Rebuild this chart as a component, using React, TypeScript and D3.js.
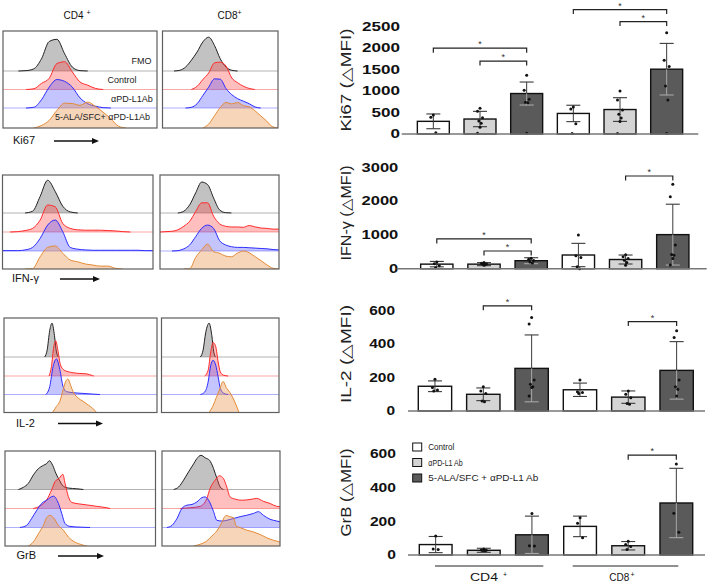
import React from "react";
import * as d3 from "d3";

const FONT = "'Liberation Sans', Arial, Helvetica, sans-serif";

// ---------------- Histogram data (count, % of 36px unit) ----------------
// Uniform bins: fluorescence 0,5,...,100 (Ki67 & IFN-γ)
const ki67_CD4_FMO = [0,0,0,1,6,34,82,88,48,11,1,0,0,0,0,0,0,0,0,0,0];
const ki67_CD4_Ctrl = [0,0,0,0,2,17,31,72,77,49,21,12,3,0,0,0,0,0,0,0,0];
const ki67_CD4_aPD = [0,0,0,0,2,23,58,79,74,58,28,12,5,1,0,0,0,0,0,0,0];
const ki67_CD4_Combo = [0,0,0,0,0,7,21,49,69,68,63,72,60,44,26,5,0,0,0,0,0];
const ki67_CD8_FMO = [0,0,0,2,11,30,53,81,94,71,34,11,2,0,0,0,0,0,0,0,0];
const ki67_CD8_Ctrl = [0,0,0,0,0,0,9,28,46,74,76,65,32,19,9,3,0,0,0,0,0];
const ki67_CD8_aPD = [0,0,0,0,0,2,12,35,58,81,80,54,37,26,19,12,3,0,0,0,0];
const ki67_CD8_Combo = [0,0,0,0,0,0,0,0,11,34,57,71,67,71,62,59,48,34,20,4,0];

const ifn_CD4_FMO = [0,0,0,0,5,46,91,60,19,3,0,0,0,0,0,0,0,0,0,0,0];
const ifn_CD4_Ctrl = [0,0,1,4,10,33,75,70,24,10,6,5,5,5,4,3,1,0,0,0,0];
const ifn_CD4_aPD = [1,1,1,3,10,35,72,86,54,10,5,3,2,2,2,2,2,2,2,1,1];
const ifn_CD4_Combo = [0,0,0,0,1,34,60,64,44,25,20,14,11,8,8,2,0,0,0,0,0];
const ifn_CD8_FMO = [0,0,0,0,5,23,56,86,79,42,9,1,0,0,0,0,0,0,0,0,0];
const ifn_CD8_Ctrl = [0,1,2,6,16,30,57,81,81,44,23,16,14,14,13,18,14,11,10,8,8];
const ifn_CD8_aPD = [0,0,0,1,6,17,40,63,72,63,29,17,12,10,10,9,8,7,6,4,3];
const ifn_CD8_Combo = [0,0,0,0,0,1,32,53,69,48,44,36,34,44,50,45,34,23,11,2,0];

// [fluorescence, count] pairs (IL-2 & GrB)
const il2_CD4_FMO: [number, number][] = [[26.6,0],[28.2,19],[29.9,74],[31.4,94],[32.8,65],[34.3,14],[35.6,0]];
const il2_CD4_Ctrl: [number, number][] = [[29.5,0],[31,26],[32.5,81],[33.8,98],[35.2,72],[36.9,31],[39.1,17],[41.9,12],[45.2,9],[49.6,7],[53.9,6],[57.9,1],[58.7,0]];
const il2_CD4_aPD: [number, number][] = [[27.3,0],[29.9,22],[32.1,78],[34.3,99],[36.5,69],[38.6,22],[40.8,8],[45.2,5],[51.7,3],[58.3,1],[62.7,0]];
const il2_CD4_Combo: [number, number][] = [[31.7,0],[34.3,17],[36.5,31],[38.6,63],[40.4,87],[41.9,93],[43.4,77],[45.6,54],[48.5,40],[51.7,31],[55,21],[57.9,12],[60.5,0]];
const il2_CD8_FMO: [number, number][] = [[33.1,0],[35.4,19],[37.7,69],[40.5,94],[42.8,60],[44.5,14],[45.9,0]];
const il2_CD8_Ctrl: [number, number][] = [[36.8,0],[39.7,16],[41.9,67],[43.9,93],[46.2,81],[48.2,39],[50.1,11],[53,2],[56.7,0]];
const il2_CD8_aPD: [number, number][] = [[33.1,0],[36.8,7],[39.7,35],[41.9,81],[43.9,95],[46.2,81],[48.2,49],[50.1,17],[53,3],[56.7,0]];
const il2_CD8_Combo: [number, number][] = [[40.5,0],[43.9,19],[46.7,42],[49.6,65],[52.4,86],[55.2,69],[58.1,56],[60.9,40],[63.2,23],[66,0]];

const grb_CD4_FMO: [number, number][] = [[8.9,0],[12.2,6],[15.5,17],[18.8,40],[22.2,58],[25.5,67],[27.7,72],[29.5,80],[31.7,67],[33.9,44],[36.1,26],[38.8,9],[42.1,4],[47.7,2],[52.1,0]];
const grb_CD4_Ctrl: [number, number][] = [[18.8,0],[23.3,7],[27.7,24],[31,52],[33.3,75],[36.1,84],[38.4,95],[39.9,70],[42.1,33],[44.3,17],[48.8,13],[54.3,10],[61,6],[67.6,2],[69.8,0]];
const grb_CD4_aPD: [number, number][] = [[10,0],[14.4,6],[17.7,25],[21.1,48],[24.4,67],[27.7,76],[32.2,87],[35.5,67],[37.7,39],[39.9,11],[43.2,3],[49.9,1],[56.5,0]];
const grb_CD4_Combo: [number, number][] = [[15.5,0],[18.8,11],[22.2,34],[25.5,57],[27.7,79],[29.9,85],[32.2,79],[35.5,57],[38.8,44],[42.1,25],[45.5,13],[49.9,5],[54.3,0]];
const grb_CD8_FMO: [number, number][] = [[9.9,0],[14.1,7],[18.3,26],[22.5,49],[26.2,68],[29.6,86],[33,95],[36.6,88],[40.3,81],[43.7,58],[46.5,31],[49.3,7],[52.1,0]];
const grb_CD8_Ctrl: [number, number][] = [[15.5,0],[23.9,2],[32.4,6],[38,28],[40.8,56],[45.1,79],[48.7,91],[52.1,83],[54.9,60],[57.7,32],[62,26],[67.6,23],[74.6,25],[80.3,28],[85.9,20],[91.5,14],[97.2,6],[100,5]];
const grb_CD8_aPD: [number, number][] = [[4.2,0],[8.5,6],[12.7,25],[16.9,53],[21.1,62],[25.4,64],[29.6,71],[33.8,83],[36.6,85],[40.3,71],[43.7,44],[46.5,20],[50.7,18],[54.9,20],[60.6,25],[66.2,30],[71.8,34],[77.5,39],[81.7,44],[85.9,34],[91.5,23],[97.2,18],[100,16]];
const grb_CD8_Combo: [number, number][] = [[26.8,0],[32.4,5],[38,14],[42.3,28],[46.5,42],[49.9,60],[52.7,79],[54.4,85],[57.7,81],[60.6,79],[62.8,56],[66.2,51],[71.8,44],[77.5,39],[83.1,32],[88.7,23],[94.4,16],[100,11]];

const histLaneNames = ["FMO", "Control", "αPD-L1Ab", "5-ALA/SFC+ αPD-L1Ab"];
const histMarkers = ["Ki67", "IFN-γ", "IL-2", "GrB"];

// ---------------- Bar chart data ----------------
const barCategories = [
  "CD4 Control", "CD4 αPD-L1 Ab", "CD4 5-ALA/SFC + αPD-L1 Ab",
  "CD8 Control", "CD8 αPD-L1 Ab", "CD8 5-ALA/SFC + αPD-L1 Ab",
];
const legendLabels = ["Control", "αPD-L1 Ab", "5-ALA/SFC + αPD-L1 Ab"];
const groupLabels = ["CD4", "CD8"];

const ki67Mean = [295, 349, 943, 479, 570, 1510];
const ki67SD = [172, 179, 268, 191, 276, 601];
const ki67Dots = [[440, 390, 30], [600, 530, 380, 300, 250, 160, 20], [1370, 1020, 810, 740, 730, 15], [630, 580, 240, 10], [1000, 790, 560, 460, 370, 290, 10], [2360, 1720, 1570, 1120, 790, 10]];
const ki67Sig = [[0, 2, 2000], [1, 2, 1700], [3, 5, 2900], [4, 5, 2620]];
const ki67Ticks = [0, 500, 1000, 1500, 2000, 2500];

const ifnMean = [135, 135, 237, 405, 272, 1008];
const ifnSD = [80, 45, 88, 345, 133, 900];
const ifnDots = [[200, 150, 90, 30], [180, 160, 140, 130, 120, 100], [310, 280, 240, 200, 170], [1000, 380, 330, 60, 0], [410, 350, 300, 250, 180, 100], [2500, 2130, 700, 420, 400, 300, 110]];
const ifnSig = [[0, 2, 880], [1, 2, 524], [4, 5, 2743]];
const ifnTicks = [0, 1000, 2000, 3000];

const il2Mean = [148, 100, 255, 127, 83, 243];
const il2SD = [32, 38, 200, 40, 37, 172];
const il2Dots = [[190, 140, 125, 120], [145, 120, 105, 60, 55], [560, 520, 185, 160, 145, 140, 90], [185, 115, 110, 105], [120, 100, 80, 45, 40], [480, 440, 185, 145, 130, 90]];
const il2Sig = [[1, 2, 629], [4, 5, 535]];
const il2Ticks = [0, 200, 400, 600];

const grbMean = [62, 28, 120, 170, 55, 309];
const grbSD = [48, 12, 111, 61, 25, 206];
const grbDots = [[113, 36, 33], [36, 30, 28, 26, 25], [247, 55, 53], [222, 188, 102], [82, 62, 50, 33], [540, 248, 135]];
const grbSig = [[4, 5, 593]];
const grbTicks = [0, 200, 400, 600];

// ---------------- styles ----------------
const LANE_STYLE = [
  { fill: "rgba(120,120,120,0.45)", stroke: "#222", base: "#b4b4b4" },
  { fill: "rgba(255,60,60,0.33)", stroke: "#ff2a2a", base: "#f7a8a8" },
  { fill: "rgba(70,70,255,0.32)", stroke: "#2b2bff", base: "#aeaeff" },
  { fill: "rgba(235,150,80,0.4)", stroke: "#e38a35", base: "#e38a35" },
];
const BAR_FILL = ["#ffffff", "#d4d4d4", "#5a5a5a"];

const binned = (a: number[]): [number, number][] => a.map((v, i) => [i * 5, v] as [number, number]);
const trim = (pts: [number, number][]) => {
  let f = pts.findIndex((p) => p[1] > 0);
  let l = pts.length - 1;
  while (l > 0 && pts[l][1] <= 0) l--;
  if (f < 0) return pts;
  return pts.slice(Math.max(0, f - 1), Math.min(pts.length, l + 2));
};

type Pts = [number, number][];

function HistPanel({ id, x0, x1, top, base, curves }: { id: string; x0: number; x1: number; top: number; base: number[]; curves: Pts[] }) {
  const xs = d3.scaleLinear().domain([0, 100]).range([x0, x1]);
  const hs = d3.scaleLinear().domain([0, 100]).range([0, 36]);
  const bottom = base[3];
  return (
    <g>
      <defs>
        <clipPath id={id}>
          <rect x={x0} y={top} width={x1 - x0} height={bottom - top} />
        </clipPath>
      </defs>
      <g clipPath={`url(#${id})`}>
        {base.slice(0, 3).map((b, k) => (
          <line key={"b" + k} x1={x0} x2={x1} y1={b} y2={b} stroke={LANE_STYLE[k].base} strokeWidth={1.2} />
        ))}
        {curves.map((c, k) => {
          const pts = trim(c);
          const area = d3.area<[number, number]>().x((d) => xs(d[0])).y0(base[k]).y1((d) => base[k] - hs(d[1])).curve(d3.curveMonotoneX);
          const line = d3.line<[number, number]>().x((d) => xs(d[0])).y((d) => base[k] - hs(d[1])).curve(d3.curveMonotoneX);
          return (
            <g key={k}>
              <path d={area(pts) || ""} fill={LANE_STYLE[k].fill} />
              <path d={line(pts) || ""} fill="none" stroke={LANE_STYLE[k].stroke} strokeWidth={1} />
            </g>
          );
        })}
      </g>
      <rect x={x0} y={top} width={x1 - x0} height={bottom - top} fill="none" stroke="#5e5e5e" strokeWidth={1.2} />
    </g>
  );
}

const histRows = [
  { top: 31, base: [71, 89.5, 108, 128], cd4: [3, 157], cd8: [162.5, 278], lx: 13, ly: 144, ay: 141, ax: [54, 99],
    c4: [binned(ki67_CD4_FMO), binned(ki67_CD4_Ctrl), binned(ki67_CD4_aPD), binned(ki67_CD4_Combo)],
    c8: [binned(ki67_CD8_FMO), binned(ki67_CD8_Ctrl), binned(ki67_CD8_aPD), binned(ki67_CD8_Combo)] },
  { top: 175, base: [213, 232, 251, 269], cd4: [2.5, 153], cd8: [160, 279], lx: 12, ly: 282, ay: 279, ax: [60, 100],
    c4: [binned(ifn_CD4_FMO), binned(ifn_CD4_Ctrl), binned(ifn_CD4_aPD), binned(ifn_CD4_Combo)],
    c8: [binned(ifn_CD8_FMO), binned(ifn_CD8_Ctrl), binned(ifn_CD8_aPD), binned(ifn_CD8_Combo)] },
  { top: 318, base: [357, 376, 394.5, 412.5], cd4: [4, 157], cd8: [161.5, 279], lx: 16, ly: 427, ay: 423.5, ax: [58, 103],
    c4: [il2_CD4_FMO, il2_CD4_Ctrl, il2_CD4_aPD, il2_CD4_Combo],
    c8: [il2_CD8_FMO, il2_CD8_Ctrl, il2_CD8_aPD, il2_CD8_Combo] },
  { top: 451, base: [489.5, 508.5, 527.5, 546], cd4: [5, 155.5], cd8: [162, 280], lx: 16.5, ly: 558.5, ay: 556, ax: [58, 104],
    c4: [grb_CD4_FMO, grb_CD4_Ctrl, grb_CD4_aPD, grb_CD4_Combo],
    c8: [grb_CD8_FMO, grb_CD8_Ctrl, grb_CD8_aPD, grb_CD8_Combo] },
];

type BarCfg = {
  range: [number, number]; pad: number; y0: number; y1: number; ymax: number;
  axis: [number, number]; tickRight: number; charW: number; label: string; labelY: number; labelLen: number;
};

function BarChart({ cfg, means, sds, dots, sigs, ticks }: { cfg: BarCfg; means: number[]; sds: number[]; dots: number[][]; sigs: number[][]; ticks: number[] }) {
  const xb = d3.scaleBand<string>().domain(barCategories).range(cfg.range).paddingInner(cfg.pad).paddingOuter(cfg.pad / 2);
  const y = d3.scaleLinear().domain([0, cfg.ymax]).range([cfg.y0, cfg.y1]);
  const bw = xb.bandwidth();
  const jit = [0, -2.5, 2.5, -1.2, 1.2, 0, -2.5];
  return (
    <g fontFamily={FONT}>
      <text transform={`translate(351,${cfg.labelY}) rotate(-90)`} textAnchor="middle" fontSize={14} fill="#222" textLength={cfg.labelLen} lengthAdjust="spacingAndGlyphs">{cfg.label}</text>
      {ticks.map((t) => (
        <text key={t} x={cfg.tickRight} y={y(t)} dy="0.36em" textAnchor="end" fontSize={12} fontWeight="bold" fill="#111" textLength={String(t).length * cfg.charW} lengthAdjust="spacingAndGlyphs">{t}</text>
      ))}
      {barCategories.map((c, i) => {
        const x = xb(c)!;
        const cx = x + bw / 2;
        const m = means[i];
        const lo = Math.max(0, m - sds[i]);
        const hi = m + sds[i];
        const dark = i % 3 === 2;
        return (
          <g key={c}>
            <rect x={x} y={y(m)} width={bw} height={cfg.y0 - y(m)} fill={BAR_FILL[i % 3]} stroke="#111" strokeWidth={1.4} />
            <line x1={cx} x2={cx} y1={y(m)} y2={y(hi)} stroke="#3a3a3a" strokeWidth={1} />
            <line x1={cx - 7} x2={cx + 7} y1={y(hi)} y2={y(hi)} stroke="#3a3a3a" strokeWidth={1.1} />
            <line x1={cx} x2={cx} y1={y(lo)} y2={y(m)} stroke={dark ? "#a8a8a8" : "#3a3a3a"} strokeWidth={1} />
            <line x1={cx - 7} x2={cx + 7} y1={y(lo)} y2={y(lo)} stroke={dark ? "#a8a8a8" : "#3a3a3a"} strokeWidth={1.1} />
            {dots[i].map((v, j) => (
              <circle key={j} cx={cx + jit[j % jit.length]} cy={y(v)} r={1.5} fill="#111" />
            ))}
          </g>
        );
      })}
      <line x1={cfg.axis[0]} x2={cfg.axis[1]} y1={cfg.y0} y2={cfg.y0} stroke="#777" strokeWidth={1.6} />
      {sigs.map(([a, b, lvl], k) => {
        const xa = xb(barCategories[a])! + bw / 2;
        const xc = xb(barCategories[b])! + bw / 2;
        const yy = y(lvl);
        return (
          <g key={k}>
            <path d={`M${xa},${yy + 4.5}V${yy}H${xc}V${yy + 4.5}`} fill="none" stroke="#222" strokeWidth={1.2} />
            <text x={(xa + xc) / 2} y={yy - 1} textAnchor="middle" fontSize={9} fill="#333">*</text>
          </g>
        );
      })}
    </g>
  );
}

const ki67Cfg: BarCfg = { range: [410, 690], pad: 0.315, y0: 134, y1: 26.7, ymax: 2500, axis: [401.7, 698.3], tickRight: 400, charW: 9.5, label: "Ki67 (△MFI)", labelY: 80, labelLen: 103 };
const ifnCfg: BarCfg = { range: [413.2, 696.4], pad: 0.316, y0: 268.7, y1: 167.3, ymax: 3000, axis: [396.7, 706.7], tickRight: 398.3, charW: 9.2, label: "IFN-γ (△MFI)", labelY: 213, labelLen: 95 };
const il2Cfg: BarCfg = { range: [410.8, 700.8], pad: 0.31, y0: 411, y1: 310.7, ymax: 600, axis: [408, 705], tickRight: 395, charW: 8.6, label: "IL-2 (△MFI)", labelY: 354, labelLen: 98 };
const grbCfg: BarCfg = { range: [411.6, 700.4], pad: 0.32, y0: 555, y1: 454, ymax: 600, axis: [408, 705], tickRight: 396, charW: 8.7, label: "GrB (△MFI)", labelY: 492.5, labelLen: 88 };

export default function App() {
  const labelPos = [
    { x: 131.5, y: 63.5 },
    { x: 107.5, y: 83 },
    { x: 111, y: 101.5 },
    { x: 55, y: 120 },
  ];
  const legendY = [443, 458.5, 474];
  const legendLen = [26, 34.5, 110];
  return (
    <svg width={709} height={582} style={{ position: "absolute", left: 0, top: 0, background: "#fff" }} fontFamily={FONT}>
      <rect x={0} y={0} width={709} height={582} fill="#fff" />
      {/* column headers */}
      <text x={63.5} y={18.5} fontSize={10} fill="#111">CD4<tspan fontSize={7} dx={3} dy={-4}>+</tspan></text>
      <text x={217.5} y={18.5} fontSize={10} fill="#111">CD8<tspan fontSize={7} dy={-4}>+</tspan></text>

      {histRows.map((r, ri) => (
        <g key={ri}>
          <HistPanel id={`h4-${ri}`} x0={r.cd4[0]} x1={r.cd4[1]} top={r.top} base={r.base} curves={r.c4} />
          <HistPanel id={`h8-${ri}`} x0={r.cd8[0]} x1={r.cd8[1]} top={r.top} base={r.base} curves={r.c8} />
          <text x={r.lx} y={r.ly} fontSize={11} fill="#111">{histMarkers[ri]}</text>
          <line x1={r.ax[0]} x2={r.ax[1] - 6} y1={r.ay} y2={r.ay} stroke="#111" strokeWidth={1.3} />
          <path d={`M${r.ax[1]},${r.ay}L${r.ax[1] - 7},${r.ay - 3}L${r.ax[1] - 7},${r.ay + 3}Z`} fill="#111" />
        </g>
      ))}
      {histLaneNames.map((n, k) => (
        <text key={n} x={labelPos[k].x} y={labelPos[k].y} fontSize={9} fill="#222">{n}</text>
      ))}

      <BarChart cfg={ki67Cfg} means={ki67Mean} sds={ki67SD} dots={ki67Dots} sigs={ki67Sig} ticks={ki67Ticks} />
      <BarChart cfg={ifnCfg} means={ifnMean} sds={ifnSD} dots={ifnDots} sigs={ifnSig} ticks={ifnTicks} />
      <BarChart cfg={il2Cfg} means={il2Mean} sds={il2SD} dots={il2Dots} sigs={il2Sig} ticks={il2Ticks} />
      <BarChart cfg={grbCfg} means={grbMean} sds={grbSD} dots={grbDots} sigs={grbSig} ticks={grbTicks} />

      {/* legend */}
      {legendLabels.map((l, k) => (
        <g key={l}>
          <rect x={412.7} y={legendY[k]} width={9} height={8} fill={BAR_FILL[k]} stroke="#111" strokeWidth={1} />
          <text x={428.3} y={legendY[k] + 4} dy="0.36em" fontSize={8.5} fill="#222" textLength={legendLen[k]} lengthAdjust="spacingAndGlyphs">{l}</text>
        </g>
      ))}
      {/* group lines */}
      <line x1={435} x2={543.3} y1={566} y2={566} stroke="#222" strokeWidth={1.2} />
      <line x1={572.7} x2={678.3} y1={566} y2={566} stroke="#222" strokeWidth={1.2} />
      <text x={470} y={580.5} fontSize={10} fill="#111" textLength={28} lengthAdjust="spacingAndGlyphs">{groupLabels[0]}</text>
      <text x={503} y={576.5} fontSize={7} fill="#111">+</text>
      <text x={609.3} y={580.5} fontSize={10} fill="#111">{groupLabels[1]}</text>
      <text x={630.5} y={576.5} fontSize={7} fill="#111">+</text>
    </svg>
  );
}
